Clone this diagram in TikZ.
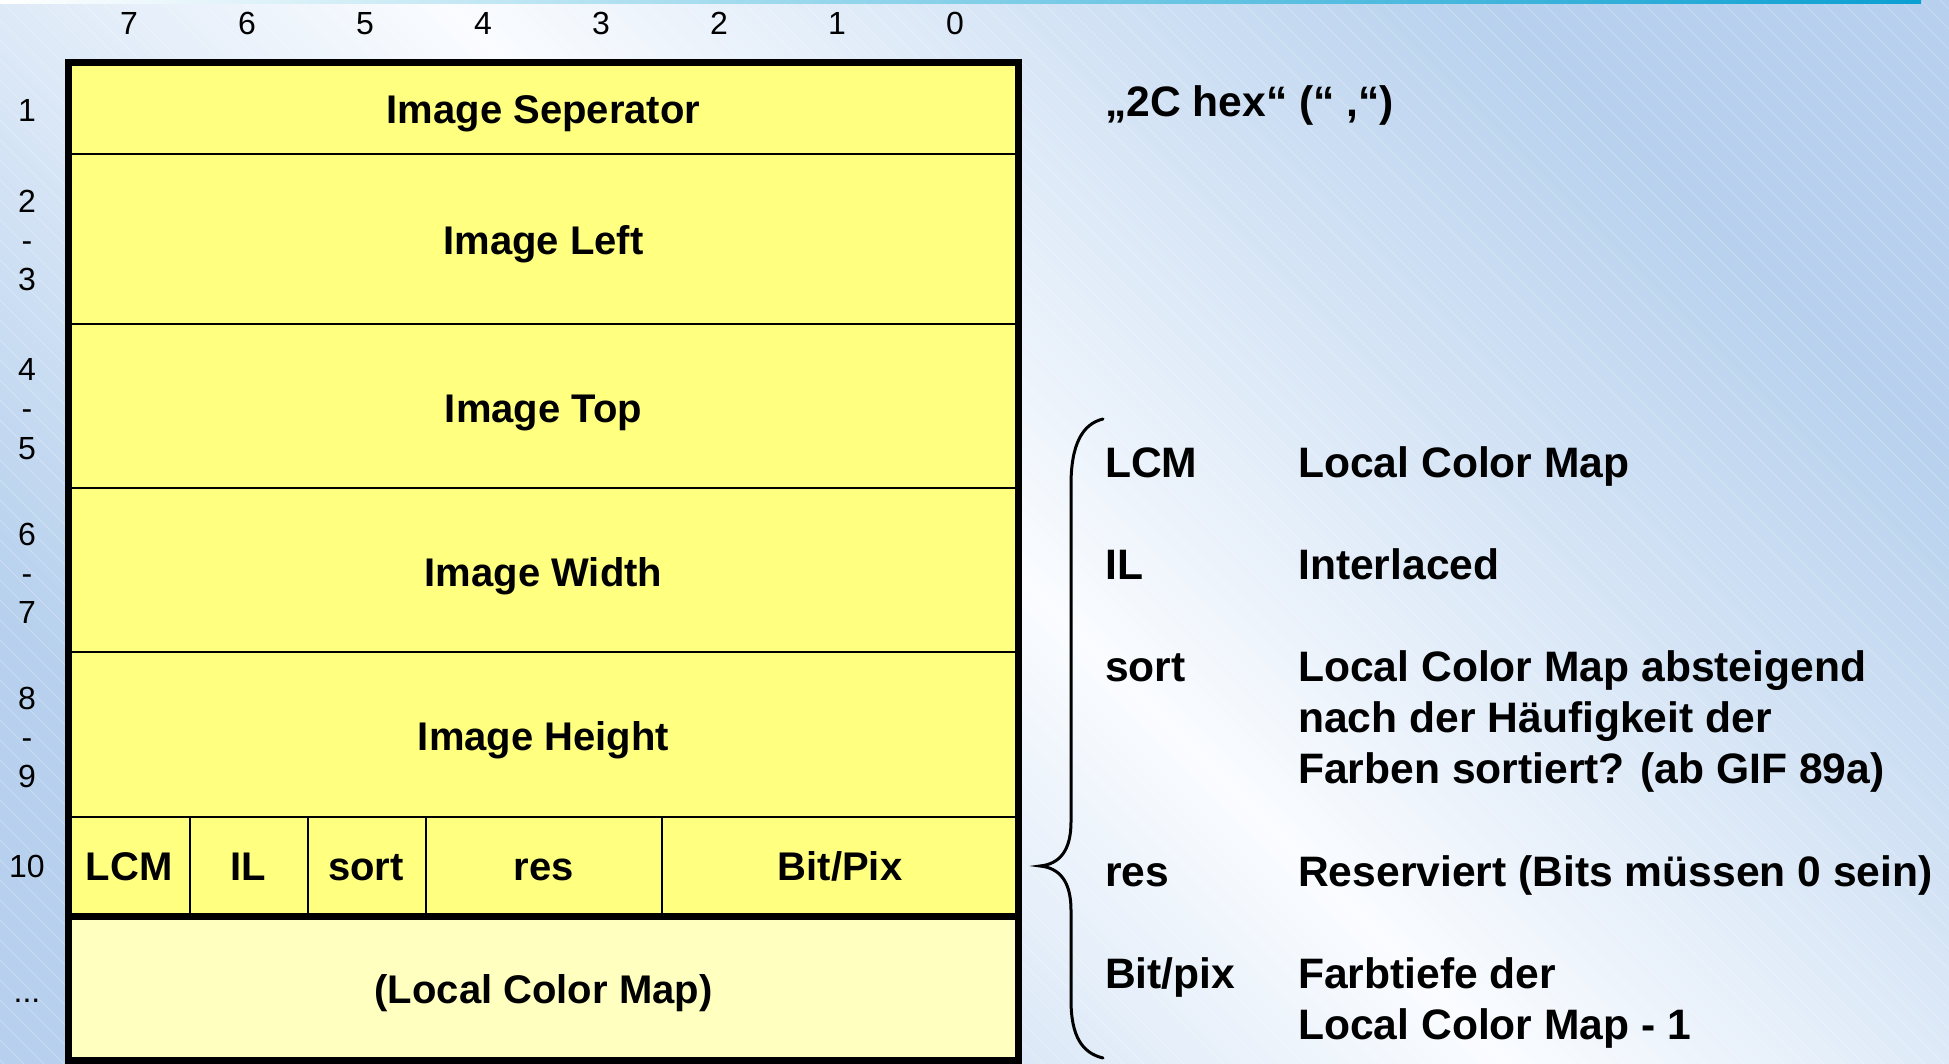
\documentclass[tikz,border=0pt]{standalone}
\usepackage{fontspec}
\setmainfont{Liberation Sans}
\definecolor{rowyellow}{RGB}{255,255,128}
\definecolor{mapyellow}{RGB}{255,255,192}
\definecolor{bgblue}{RGB}{182,208,237}
\definecolor{bgwhite}{RGB}{250,252,255}
\definecolor{topblue}{RGB}{10,160,210}
\tikzset{
  big/.style={font=\fontsize{40}{48}\selectfont\bfseries, anchor=base, inner sep=0pt},
  desc/.style={font=\fontsize{42.6}{51}\selectfont\bfseries, anchor=base west, inner sep=0pt},
  num/.style={font=\fontsize{32}{38}\selectfont, anchor=base, inner sep=0pt},
  thinline/.style={line width=1.5pt},
  thickline/.style={line width=7pt},
  hatch/.style={white, opacity=0.25, line width=0.8pt},
  bracestyle/.style={line width=3pt, line cap=round},
}
\begin{document}
\begin{tikzpicture}[x=1pt,y=-1pt]
\useasboundingbox (0,0) rectangle (1949,1064);
% background
\shade[top color=bgblue, bottom color=bgblue, middle color=bgwhite, shading angle=-45] (0,0) rectangle (1949,1064);
\begin{scope}
\clip (0,0) rectangle (1949,1064);
\foreach \i in {-1100,-1080,...,1960} \draw[hatch] (\i,0) -- ++(1064,1064);
\end{scope}
\shade[left color=white, right color=topblue] (0,0) rectangle (1921,3.5);

% boxes
\fill[rowyellow] (68.5,62.5) rectangle (1018.5,916);
\fill[mapyellow] (68.5,916) rectangle (1018.5,1060.5);
\foreach \yy in {154,324,488,652,817} \draw[thinline] (72,\yy) -- (1015,\yy);
\foreach \xx in {190,308,426,662} \draw[thinline] (\xx,817) -- (\xx,916);
\draw[thickline] (68.5,62.5) rectangle (1018.5,916);
\draw[thickline] (68.5,916) rectangle (1018.5,1060.5);

% column numbers
\foreach \n [count=\k from 0] in {7,6,5,4,3,2,1,0}
  \node[num] (col\n) at ({129+118*\k},34.5) {\n};

% row numbers
\node[num] (r1) at (27,121.5) {1};
\node[num] (r2) at (27,213) {2};
\node[num] (r2d) at (27,252) {-};
\node[num] (r3) at (27,291) {3};
\node[num] (r4) at (27,381) {4};
\node[num] (r4d) at (27,420) {-};
\node[num] (r5) at (27,459) {5};
\node[num] (r6) at (27,545) {6};
\node[num] (r6d) at (27,584) {-};
\node[num] (r7) at (27,623) {7};
\node[num] (r8) at (27,709) {8};
\node[num] (r8d) at (27,748) {-};
\node[num] (r9) at (27,787) {9};
\node[num] (r10) at (27,877) {10};
\node[num] (rdots) at (27,1002) {...};

% field texts
\node[big] (sep) at (543.5,123.5) {Image Seperator};
\node[big] (left) at (543.5,254.5) {Image Left};
\node[big] (top) at (543.5,422) {Image Top};
\node[big] (width) at (543.5,586) {Image Width};
\node[big] (height) at (543.5,750) {Image Height};
\node[big] (lcm) at (129,880.5) {LCM};
\node[big] (il) at (248,880.5) {IL};
\node[big] (sort) at (366,880.5) {sort};
\node[big] (res) at (544,880.5) {res};
\node[big] (bitpix) at (840,880.5) {Bit/Pix};
\node[big] (lcmap) at (543.5,1003) {(Local Color Map)};

% right side
\node[desc] (hex) at (1105,117) {„2C hex“ (“ ,“)};
\draw[bracestyle] (1103,419) .. controls (1082,424) and (1071,445) .. (1071,485)
  -- (1071,822) .. controls (1071,850) and (1060,864) .. (1040,866)
  .. controls (1060,868) and (1071,882) .. (1071,910)
  -- (1071,1000) .. controls (1071,1036) and (1082,1053) .. (1103,1058);
\node[desc] (kLCM) at (1105,477) {LCM};
\node[desc] (vLCM) at (1298,477) {Local Color Map};
\node[desc] (kIL) at (1105,579) {IL};
\node[desc] (vIL) at (1298,579) {Interlaced};
\node[desc] (kSort) at (1105,681) {sort};
\node[desc] (vSortA) at (1298,681) {Local Color Map absteigend};
\node[desc] (vSortB) at (1298,732) {nach der Häufigkeit der};
\node[desc] (vSortC) at (1298,783) {Farben sortiert? (ab GIF 89a)};
\node[desc] (kRes) at (1105,886) {res};
\node[desc] (vRes) at (1298,886) {Reserviert (Bits müssen 0 sein)};
\node[desc] (kBit) at (1105,988) {Bit/pix};
\node[desc] (vBitA) at (1298,988) {Farbtiefe der};
\node[desc] (vBitB) at (1298,1039) {Local Color Map - 1};
\end{tikzpicture}
\end{document}
